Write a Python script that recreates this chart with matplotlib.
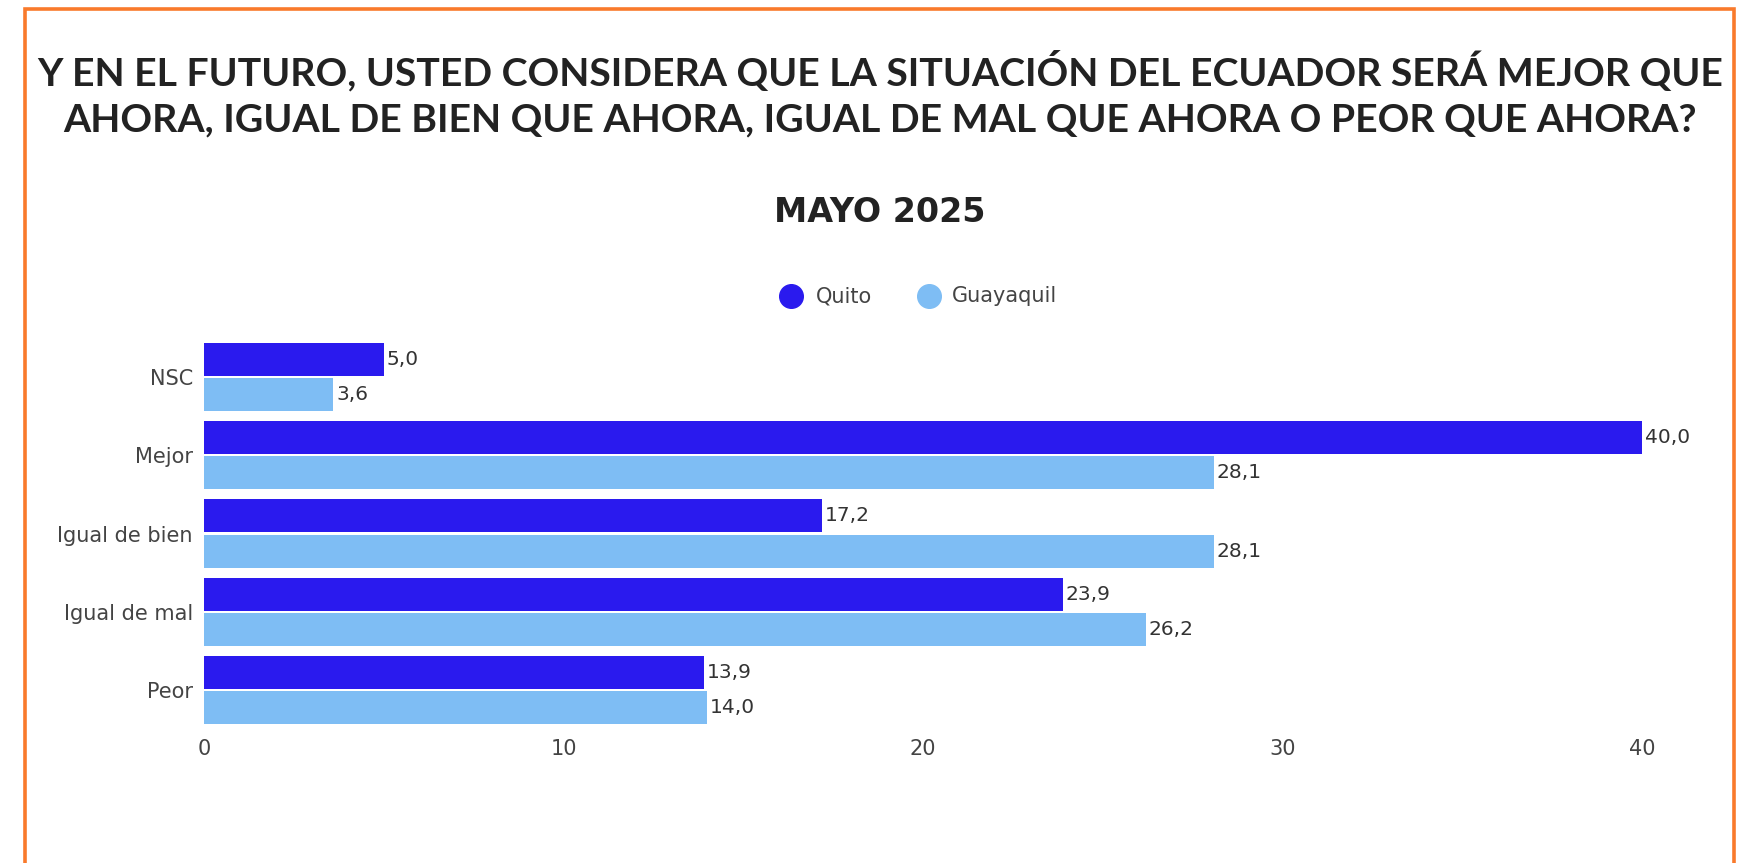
import matplotlib
matplotlib.use('Agg')
import matplotlib.pyplot as plt
from matplotlib.lines import Line2D
from matplotlib.patches import Rectangle
import numpy as np

categories = ['NSC', 'Mejor', 'Igual de bien', 'Igual de mal', 'Peor']
quito = [5.0, 40.0, 17.2, 23.9, 13.9]
guayaquil = [3.6, 28.1, 28.1, 26.2, 14.0]
series_names = ['Quito', 'Guayaquil']
xticks = [0, 10, 20, 30, 40]
title_lines = ['Y EN EL FUTURO, USTED CONSIDERA QUE LA SITUACIÓN DEL ECUADOR SERÁ MEJOR QUE',
               'AHORA, IGUAL DE BIEN QUE AHORA, IGUAL DE MAL QUE AHORA O PEOR QUE AHORA?']
subtitle = 'MAYO 2025'

C_QUITO = '#2A1AEE'
C_GYE = '#7EBDF4'
TXT = '#444444'
FONT = ['DejaVu Sans']
TFONT = ['Lato', 'DejaVu Sans']

W, H = 1760, 863
fig = plt.figure(figsize=(W / 100, H / 100), dpi=100)

# axes placement (pixels -> fractions)
x0_px, x40_px = 204, 1642
xmax = 42
right_px = x0_px + xmax * (x40_px - x0_px) / 40
top_px, bot_px = 338, 729
ax = fig.add_axes([x0_px / W, 1 - bot_px / H, (right_px - x0_px) / W, (bot_px - top_px) / H])

y = np.arange(len(categories))
bh = 0.42
off = 0.225
ax.barh(y - off, quito, height=bh, color=C_QUITO, label=series_names[0])
ax.barh(y + off, guayaquil, height=bh, color=C_GYE, label=series_names[1])

for vals, sign in ((quito, -1), (guayaquil, 1)):
    for yi, v in zip(y, vals):
        ax.annotate(f"{v:.1f}".replace('.', ','), xy=(v, yi + sign * off),
                    xytext=(2, 0), textcoords='offset points', va='center', ha='left',
                    fontsize=14.5, color='#333333', family=FONT)

ax.set_xlim(0, xmax)
ax.set_ylim(len(categories) - 0.5, -0.5)
ax.set_yticks(y)
ax.set_yticklabels(categories, family=FONT, fontsize=15, color=TXT)
ax.set_xticks(xticks)
ax.set_xticklabels([str(t) for t in xticks], family=FONT, fontsize=15, color=TXT)
ax.tick_params(axis='both', length=0)
ax.tick_params(axis='y', pad=8)
ax.tick_params(axis='x', pad=7)
for s in ax.spines.values():
    s.set_visible(False)

# titles
renderer = fig.canvas.get_renderer()
target_w = 1688
t1 = fig.text(0.5, 1 - 85 / H, title_lines[0], ha='center', va='baseline', fontsize=24,
              fontweight='bold', family=TFONT, color='#222222')
w = t1.get_window_extent(renderer).width
fs = 24 * target_w / w
t1.set_fontsize(fs)
fig.text(0.5, 1 - 131 / H, title_lines[1], ha='center', va='baseline', fontsize=fs,
         fontweight='bold', family=TFONT, color='#222222')
fig.text(0.5, 1 - 212 / H, subtitle, ha='center', va='center', fontsize=24,
         fontweight='bold', family=FONT, color='#222222')

# legend (manual placement)
leg_y = 1 - 296 / H
for name, col, mx, tx in ((series_names[0], C_QUITO, 791, 816),
                          (series_names[1], C_GYE, 929, 952)):
    fig.add_artist(Line2D([mx / W], [leg_y], marker='o', markersize=17, color=col,
                          linestyle='none', transform=fig.transFigure))
    fig.text(tx / W, leg_y, name, ha='left', va='center', fontsize=15, family=FONT, color=TXT)

# orange frame
fig.patches.append(Rectangle((25 / W, -0.1), (1734 - 25) / W, 1.1 - 9 / H,
                             transform=fig.transFigure, fill=False, edgecolor='#F97A2B',
                             linewidth=2.6, clip_on=False))

fig.savefig('out.png', dpi=100, facecolor='white')
